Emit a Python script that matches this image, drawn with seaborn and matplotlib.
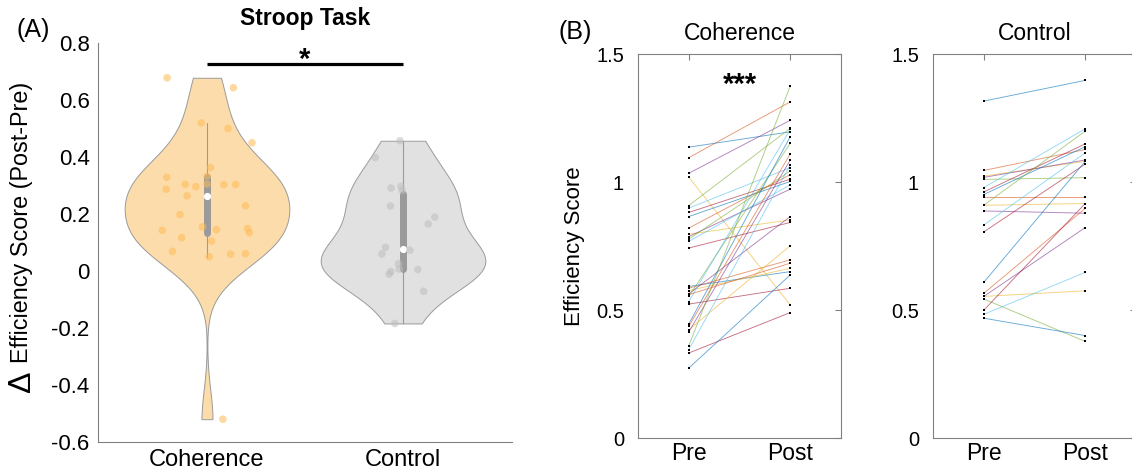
import numpy as np
import pandas as pd
import matplotlib
matplotlib.use("Agg")
import matplotlib.pyplot as plt
import seaborn as sns

# ---------------- data ----------------
groups = ["Coherence", "Control"]
coh_delta = [0.678, 0.643, 0.520, 0.500, 0.450, 0.363, 0.333, 0.329, 0.304, 0.305,
             0.303, 0.304, 0.296, 0.287, 0.264, 0.229, 0.198, 0.155, 0.149, 0.143,
             0.145, 0.134, 0.117, 0.105, 0.061, 0.069, 0.050, 0.059, -0.520]
ctl_delta = [0.457, 0.398, 0.283, 0.291, 0.297, 0.228, 0.189, 0.165, 0.083, 0.073,
             0.060, 0.026, -0.011, 0.005, -0.002, 0.007, -0.071, -0.184]

time_labels = ["Pre", "Post"]
coh_pre = [1.136, 1.095, 1.019, 1.034, 0.908, 0.898, 0.881, 0.865, 0.820, 0.796,
           0.787, 0.777, 0.768, 0.742, 0.592, 0.585, 0.576, 0.563, 0.553, 0.533,
           0.523, 0.445, 0.436, 0.423, 0.414, 0.360, 0.345, 0.332, 0.273, 0.560]
coh_post = [1.196, 1.313, 0.520, 1.241, 1.210, 1.056, 1.011, 1.002, 1.029, 0.852,
            0.972, 1.043, 0.989, 0.842, 0.650, 0.696, 0.663, 0.865, 1.151, 1.206,
            0.585, 1.177, 1.110, 0.751, 1.086, 1.375, 1.067, 0.490, 0.637, 0.683]
ctl_pre = [1.316, 1.045, 1.023, 1.018, 1.010, 0.978, 0.961, 0.951, 0.943, 0.909,
           0.887, 0.909, 0.832, 0.805, 0.608, 0.565, 0.553, 0.553, 0.543, 0.483,
           0.499, 0.468]
ctl_post = [1.397, 1.127, 1.081, 1.086, 1.017, 1.208, 1.149, 1.138, 0.943, 0.916,
            0.878, 1.199, 1.114, 1.070, 1.081, 0.897, 0.575, 0.822, 0.377, 0.647,
            0.916, 0.400]

ytick_a = [-0.6, -0.4, -0.2, 0, 0.2, 0.4, 0.6, 0.8]
ytick_a_labels = ["-0.6", "-0.4", "-0.2", "0", "0.2", "0.4", "0.6", "0.8"]
ytick_b = [0, 0.5, 1, 1.5]
ytick_b_labels = ["0", "0.5", "1", "1.5"]

# ---------------- style ----------------
sns.set_theme(style="white")
plt.rcParams["font.family"] = ["Liberation Sans", "DejaVu Sans"]
plt.rcParams["axes.unicode_minus"] = False
plt.rcParams["text.color"] = "black"
plt.rcParams["axes.labelcolor"] = "black"
plt.rcParams["xtick.color"] = "black"
plt.rcParams["ytick.color"] = "black"

GREY = "#808080"
matlab_colors = ["#0072BD", "#D95319", "#EDB120", "#7E2F8E", "#77AC30", "#4DBEEE", "#A2142F"]

fig = plt.figure(figsize=(11.32, 4.75), dpi=100)

# ---------------- Panel A ----------------
axA = fig.add_axes([98 / 1132, 33 / 475, 414 / 1132, 399 / 475])
dfA = pd.DataFrame({
    "group": ["Coherence"] * len(coh_delta) + ["Control"] * len(ctl_delta),
    "delta": coh_delta + ctl_delta,
})
sns.violinplot(data=dfA, x="group", y="delta", hue="group", order=groups,
               hue_order=groups, palette={"Coherence": "#FDDCAB", "Control": "#E1E1E1"},
               legend=False, cut=0, density_norm="width", width=0.84, bw_adjust=0.9,
               inner="box", inner_kws=dict(box_width=5, whis_width=0.8, marker="o"),
               linecolor="#9a9a9a", linewidth=0.7, saturation=1, ax=axA)
np.random.seed(7)
sns.stripplot(data=dfA, x="group", y="delta", hue="group", order=groups,
              hue_order=groups, palette={"Coherence": "#FDBB55", "Control": "#BEBEBE"},
              jitter=0.24, size=5.5, alpha=0.55, linewidth=0, legend=False, ax=axA)

axA.set_xlim(-0.556, 1.556)
axA.set_ylim(-0.6, 0.8)
axA.set_yticks(ytick_a)
axA.set_yticklabels(ytick_a_labels)
axA.set_xlabel("")
axA.set_ylabel("")
sns.despine(ax=axA)
for s in ["left", "bottom"]:
    axA.spines[s].set_color(GREY)
    axA.spines[s].set_linewidth(0.8)
axA.tick_params(axis="both", direction="in", length=4, width=0.8, color=GREY,
                labelcolor="black")
axA.tick_params(axis="y", labelsize=16, pad=6)
axA.tick_params(axis="x", labelsize=17, pad=5)
axA.set_title("Stroop Task", fontsize=16.5, fontweight="bold", pad=13, color="black")
axA.plot([0, 1], [0.726, 0.726], color="black", lw=2.3, solid_capstyle="butt",
         clip_on=False)
axA.text(0.5, 0.712, "*", ha="center", va="baseline", fontsize=21, fontweight="bold")

fig.text(22 / 1132, 1 - 222 / 475, "Efficiency Score (Post-Pre)", rotation=90,
         ha="center", va="center", fontsize=16.8)
fig.text(22 / 1132, 1 - 381 / 475, "\u0394", rotation=90, ha="center", va="center",
         fontsize=23)
fig.text(33 / 1132, 1 - 30 / 475, "(A)", ha="center", va="center", fontsize=18)
fig.text(575 / 1132, 1 - 32 / 475, "(B)", ha="center", va="center", fontsize=18)


# ---------------- Panel B ----------------
def paired_panel(ax, pre, post, title, ylabel=None):
    n = len(pre)
    df = pd.DataFrame({
        "subject": list(range(n)) * 2,
        "time": [time_labels[0]] * n + [time_labels[1]] * n,
        "score": list(pre) + list(post),
    })
    pal = [matlab_colors[i % len(matlab_colors)] for i in range(n)]
    sns.lineplot(data=df, x="time", y="score", hue="subject", palette=pal,
                 legend=False, lw=0.65, alpha=0.6, estimator=None, sort=False, ax=ax)
    sns.scatterplot(data=df, x="time", y="score", color="black", marker="s", s=3,
                    linewidth=0, legend=False, ax=ax, zorder=3)
    ax.set_xlim(-0.5, 1.5)
    ax.set_ylim(0, 1.5)
    ax.set_yticks(ytick_b)
    ax.set_yticklabels(ytick_b_labels)
    ax.set_xlabel("")
    ax.set_ylabel(ylabel if ylabel else "", fontsize=16, labelpad=8, color="black")
    for s in ax.spines.values():
        s.set_color(GREY)
        s.set_linewidth(0.8)
        s.set_visible(True)
    ax.tick_params(axis="both", direction="in", length=4, width=0.8, color=GREY,
                   labelcolor="black", top=True, right=True)
    ax.tick_params(axis="y", labelsize=14.5, pad=10)
    ax.tick_params(axis="x", labelsize=16.5, pad=3)
    ax.set_title(title, fontsize=16.5, pad=10, color="black")


axB1 = fig.add_axes([638 / 1132, 37 / 475, 203 / 1132, 384 / 475])
paired_panel(axB1, coh_pre, coh_post, "Coherence", ylabel="Efficiency Score")
axB1.text(0.5, 1.348, "***", ha="center", va="baseline", fontsize=21,
          fontweight="bold")

axB2 = fig.add_axes([933 / 1132, 37 / 475, 203 / 1132, 384 / 475])
paired_panel(axB2, ctl_pre, ctl_post, "Control")

fig.savefig("out.png", dpi=100)
